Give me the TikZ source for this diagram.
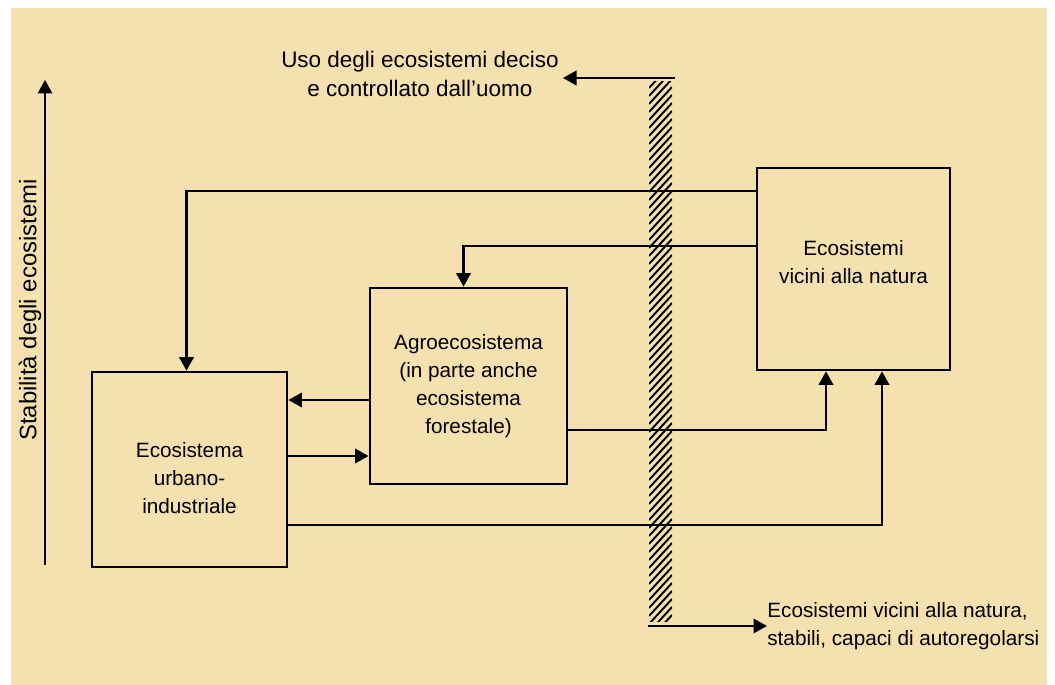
\documentclass[tikz,border=0pt]{standalone}
\usepackage{fontspec}
\setmainfont{Liberation Sans}
\usetikzlibrary{positioning, arrows.meta, calc}
\definecolor{paper}{HTML}{F5E0B0}

\begin{document}
\begin{tikzpicture}[
        x=0.02cm, y=-0.02cm,
        box/.style={rectangle, draw, line width=1.6pt, align=center,
                    font=\fontsize{11.8}{15.9}\selectfont, inner sep=0pt},
        txt/.style={align=center, font=\fontsize{11.8}{15.9}\selectfont, inner sep=0pt},
        link/.style={-{Triangle[length=0.27cm, width=0.29cm]}, line width=1.2pt}
      ]
        % background
        \useasboundingbox (0,0) rectangle (1055,685);
        \fill[white] (0,0) rectangle (1055,685);
        \fill[paper] (11,8) rectangle (1047,685);

        % boxes
        \node[box, minimum width=3.9cm, minimum height=3.9cm] (urbano) at (189.5,469.5)
          {\rule{0pt}{0.66cm}Ecosistema\\urbano-\\industriale};
        \node[box, minimum width=3.94cm, minimum height=3.92cm] (agro) at (468.5,386)
          {Agroecosistema\\(in parte anche\\ecosistema\\forestale)};
        \node[box, minimum width=3.86cm, minimum height=4.04cm] (natura) at (853.5,269)
          {Ecosistemi\\vicini alla natura\rule[-0.27cm]{0pt}{0.1pt}};

        % stability axis
        \coordinate (stabbase) at (45,565);
        \coordinate (stabtop) at (45,80);
        \draw[link, line width=1pt] (stabbase) -- (stabtop);
        \node[txt, rotate=90, font=\fontsize{13.6}{16}\selectfont] (stab) at (30,310)
          {Stabilità degli ecosistemi};

        % hatched divide
        \begin{scope}
          \clip (649,82) rectangle (672,622);
          \foreach \y in {80,88,...,660}
            \draw[line width=1.1pt] (649,\y) -- ++(23,-25);
        \end{scope}
        \coordinate (bartop) at (675,78);
        \coordinate (usoend) at (563,78);
        \coordinate (barbot) at (648,626);
        \node[txt, font=\fontsize{12.8}{16}\selectfont] (uso) at (420,74)
          {Uso degli ecosistemi deciso\\e controllato dall'uomo};
        \node[txt, anchor=west, align=left] (vicini) at (767,626)
          {Ecosistemi vicini alla natura,\\stabili, capaci di autoregolarsi};
        \draw[link] (bartop) -- (usoend);
        \draw[link] (barbot) -- (vicini.west);

        % flows
        \draw[link] ($(natura.north west)+(0,24)$) -| ($(urbano.north)+(-3,0)$);
        \draw[link] ($(natura.north west)+(0,79)$) -| ($(agro.north)+(-5,0)$);
        \draw[link] (agro.west |- 0,400) -- (urbano.east |- 0,400);
        \draw[link] (urbano.east |- 0,456) -- (agro.west |- 0,456);
        \draw[link] (agro.east |- 0,430) -| (natura.south -| 826,0);
        \draw[link] (urbano.east |- 0,525) -| (natura.south -| 882,0);
      \end{tikzpicture}
\end{document}
